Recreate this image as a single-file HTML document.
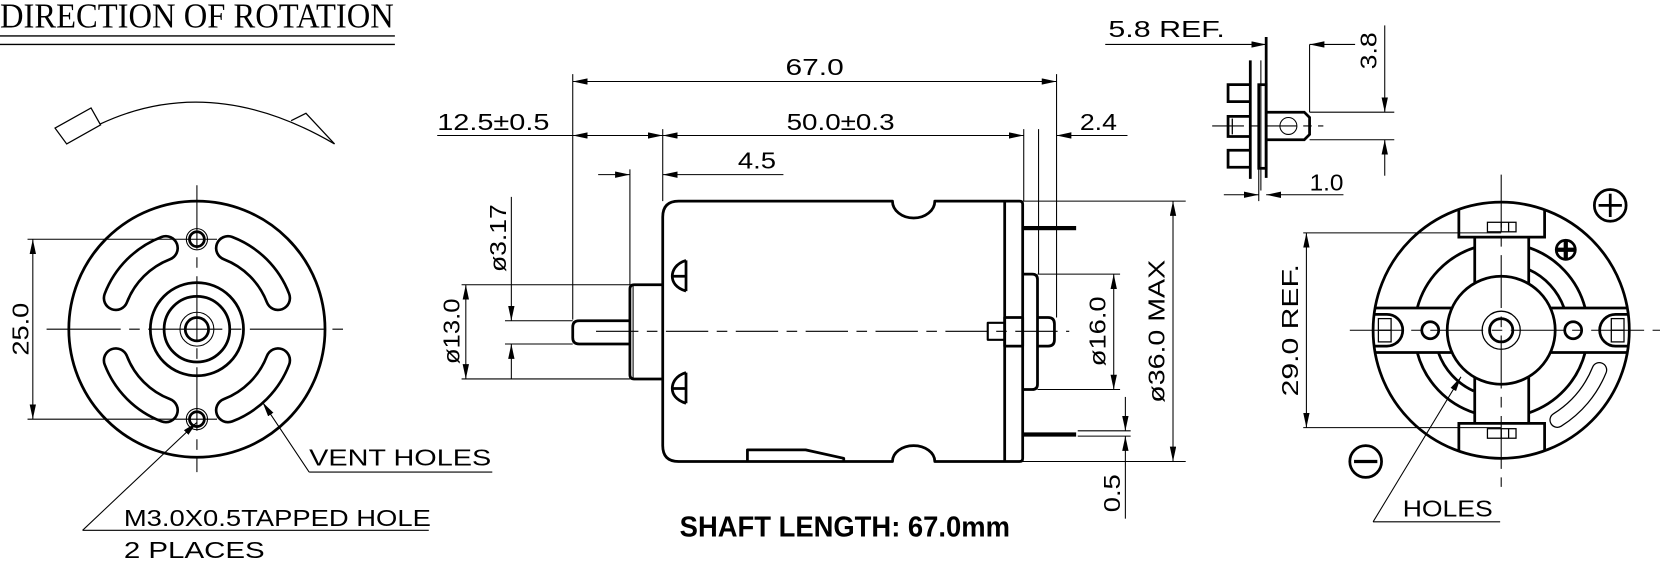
<!DOCTYPE html>
<html><head><meta charset="utf-8"><style>
html,body{margin:0;padding:0;background:#fff;}
svg{display:block;}
text{font-family:"Liberation Sans",sans-serif;fill:#000;}
</style></head><body>
<svg width="1660" height="561" viewBox="0 0 1568 530" preserveAspectRatio="none" xmlns="http://www.w3.org/2000/svg">
<defs>
<marker id="a" markerUnits="userSpaceOnUse" markerWidth="15" markerHeight="7" refX="14" refY="3" orient="auto-start-reverse"><path d="M0,0 L14,3 L0,6 z" fill="#000"/></marker>
</defs>
<g fill="none" stroke="#000" stroke-linecap="butt">

<!-- Title -->
<text x="0" y="26" font-size="33" textLength="372" lengthAdjust="spacingAndGlyphs" stroke="none" style="font-family:'Liberation Serif',serif">DIRECTION OF ROTATION</text>
<line x1="0" y1="34" x2="373" y2="34" stroke-width="1.3"/>
<line x1="0" y1="42" x2="373" y2="42" stroke-width="1.3"/>

<!-- rotation arrow -->
<path d="M95,117 Q200,68 316,136" stroke-width="1.2"/>
<polygon points="52,121 86,102 95,118 63,136" stroke-width="1.2"/>
<polyline points="275,114 289,107 316,136" stroke-width="1.2"/>

<!-- LEFT VIEW -->
<g stroke-width="2.6">
<circle cx="186" cy="311" r="121"/>
<circle cx="186" cy="311" r="44"/>
<circle cx="186" cy="311" r="31"/>
<circle cx="186" cy="311" r="11"/>
<circle cx="186" cy="226" r="7"/>
<circle cx="186" cy="396" r="7"/>
</g>
<circle cx="186" cy="311" r="16" stroke-width="1"/>
<circle cx="186" cy="226" r="10" stroke-width="1"/>
<circle cx="186" cy="396" r="10" stroke-width="1"/>
<g stroke-linecap="round">
<path d="M109.4,281.6 A82,82 0 0 1 156.6,234.4" stroke-width="25"/>
<path d="M215.4,234.4 A82,82 0 0 1 262.6,281.6" stroke-width="25"/>
<path d="M262.6,340.4 A82,82 0 0 1 215.4,387.6" stroke-width="25"/>
<path d="M156.6,387.6 A82,82 0 0 1 109.4,340.4" stroke-width="25"/>
<path d="M109.4,281.6 A82,82 0 0 1 156.6,234.4" stroke-width="20" stroke="#fff"/>
<path d="M215.4,234.4 A82,82 0 0 1 262.6,281.6" stroke-width="20" stroke="#fff"/>
<path d="M262.6,340.4 A82,82 0 0 1 215.4,387.6" stroke-width="20" stroke="#fff"/>
<path d="M156.6,387.6 A82,82 0 0 1 109.4,340.4" stroke-width="20" stroke="#fff"/>
</g>
<line x1="44" y1="311" x2="328" y2="311" stroke-width="1" stroke-dasharray="70,8,10,8"/>
<line x1="186" y1="175" x2="186" y2="446" stroke-width="1" stroke-dasharray="60,8,10,8"/>
<line x1="26" y1="226" x2="205" y2="226" stroke-width="1"/>
<line x1="26" y1="396" x2="205" y2="396" stroke-width="1"/>
<line x1="31" y1="226" x2="31" y2="396" stroke-width="1" marker-start="url(#a)" marker-end="url(#a)"/>
<text transform="translate(27,311) rotate(-90)" font-size="22" text-anchor="middle" stroke="none" textLength="50" lengthAdjust="spacingAndGlyphs">25.0</text>
<line x1="78" y1="501" x2="186" y2="399" stroke-width="1" marker-end="url(#a)"/>
<line x1="78" y1="501" x2="405" y2="501" stroke-width="1"/>
<text x="117" y="497" font-size="22" stroke="none" textLength="290" lengthAdjust="spacingAndGlyphs">M3.0X0.5TAPPED HOLE</text>
<text x="117" y="527" font-size="22" stroke="none" textLength="133" lengthAdjust="spacingAndGlyphs">2 PLACES</text>
<line x1="292" y1="446" x2="248" y2="380" stroke-width="1" marker-end="url(#a)"/>
<line x1="292" y1="446" x2="465" y2="446" stroke-width="1"/>
<text x="292" y="440" font-size="22" stroke="none" textLength="172" lengthAdjust="spacingAndGlyphs">VENT HOLES</text>

<!-- CENTER VIEW -->
<g stroke-width="1">
<line x1="541" y1="70" x2="541" y2="302"/>
<line x1="998" y1="70" x2="998" y2="300"/>
<line x1="541" y1="77" x2="998" y2="77" marker-start="url(#a)" marker-end="url(#a)"/>
<line x1="413" y1="128" x2="541" y2="128"/>
<line x1="541" y1="128" x2="626" y2="128" marker-start="url(#a)" marker-end="url(#a)"/>
<line x1="626" y1="128" x2="967" y2="128" marker-start="url(#a)" marker-end="url(#a)"/>
<line x1="998" y1="128" x2="1065" y2="128" marker-start="url(#a)"/>
<line x1="626" y1="122" x2="626" y2="190"/>
<line x1="967" y1="122" x2="967" y2="190"/>
<line x1="981" y1="122" x2="981" y2="259"/>
<line x1="565" y1="165" x2="595" y2="165" marker-end="url(#a)"/>
<line x1="626" y1="165" x2="740" y2="165" marker-start="url(#a)"/>
<line x1="595" y1="160" x2="595" y2="269"/>
<line x1="436" y1="269" x2="595" y2="269"/>
<line x1="436" y1="358" x2="595" y2="358"/>
<line x1="440" y1="269" x2="440" y2="358" marker-start="url(#a)" marker-end="url(#a)"/>
<line x1="477" y1="303" x2="541" y2="303"/>
<line x1="477" y1="325" x2="541" y2="325"/>
<line x1="483" y1="186" x2="483" y2="303" marker-end="url(#a)"/>
<line x1="483" y1="358" x2="483" y2="325" marker-end="url(#a)"/>
<line x1="966" y1="190" x2="1120" y2="190"/>
<line x1="966" y1="436" x2="1120" y2="436"/>
<line x1="1108" y1="190" x2="1108" y2="436" marker-start="url(#a)" marker-end="url(#a)"/>
<line x1="980" y1="259" x2="1058" y2="259"/>
<line x1="980" y1="368" x2="1058" y2="368"/>
<line x1="1052" y1="259" x2="1052" y2="368" marker-start="url(#a)" marker-end="url(#a)"/>
<line x1="1018" y1="407" x2="1068" y2="407"/>
<line x1="1018" y1="412" x2="1068" y2="412"/>
<line x1="1063" y1="375" x2="1063" y2="407" marker-end="url(#a)"/>
<line x1="1063" y1="490" x2="1063" y2="412" marker-end="url(#a)"/>
<line x1="563" y1="313" x2="1010" y2="313" stroke-dasharray="40,8,10,8"/>
</g>
<g stroke="none" font-size="22">
<text x="742" y="71" textLength="55" lengthAdjust="spacingAndGlyphs">67.0</text>
<text x="413" y="123" textLength="106" lengthAdjust="spacingAndGlyphs">12.5±0.5</text>
<text x="743" y="123" textLength="102" lengthAdjust="spacingAndGlyphs">50.0±0.3</text>
<text x="1020" y="123" textLength="35" lengthAdjust="spacingAndGlyphs">2.4</text>
<text x="697" y="159" textLength="36" lengthAdjust="spacingAndGlyphs">4.5</text>
<text transform="translate(434,313) rotate(-90)" text-anchor="middle" textLength="62" lengthAdjust="spacingAndGlyphs">ø13.0</text>
<text transform="translate(478,225) rotate(-90)" text-anchor="middle" textLength="64" lengthAdjust="spacingAndGlyphs">ø3.17</text>
<text transform="translate(1100,313) rotate(-90)" text-anchor="middle" textLength="135" lengthAdjust="spacingAndGlyphs">ø36.0 MAX</text>
<text transform="translate(1044,313) rotate(-90)" text-anchor="middle" textLength="66" lengthAdjust="spacingAndGlyphs">ø16.0</text>
<text transform="translate(1058,466) rotate(-90)" text-anchor="middle" textLength="36" lengthAdjust="spacingAndGlyphs">0.5</text>
<text x="642" y="507" font-size="27" font-weight="bold" textLength="312" lengthAdjust="spacingAndGlyphs">SHAFT LENGTH: 67.0mm</text>
</g>
<g stroke-width="2.6" stroke-linejoin="round">
<path d="M641,190 L843,190 A20,16 0 0 0 883,190 L963,190 Q966,190 966,193 L966,433 Q966,436 963,436 L883,436 A20,15 0 0 0 843,436 L641,436 Q626,436 626,421 L626,205 Q626,190 641,190 Z"/>
<line x1="949" y1="190" x2="949" y2="436"/>
<polyline points="706,436 706,425 761,425 797,433 797,436"/>
<path d="M648,246 L648,275 M648,246 C638,249 635,256 635,261 L648,261 M648,275 C638,272 635,266 635,261"/>
<path d="M648,352 L648,381 M648,352 C638,355 635,362 635,367 L648,367 M648,381 C638,378 635,372 635,367"/>
<path d="M626,269 L599,269 Q595,269 595,273 L595,354 Q595,358 599,358 L626,358"/>
<path d="M595,303 L547,303 Q541,303 541,309 L541,319 Q541,325 547,325 L595,325"/>
<rect x="933" y="305" width="16" height="16" stroke-width="2"/>
<rect x="949" y="300" width="17" height="27"/>
<path d="M966,259 L975,259 Q980,259 980,264 L980,363 Q980,368 975,368 L966,368"/>
<path d="M980,300 L990,300 Q996,300 996,306 L996,321 Q996,327 990,327 L980,327"/>
</g>
<rect x="966" y="214" width="50" height="3" fill="#000" stroke-width="1"/>
<rect x="966" y="409" width="50" height="3" fill="#000" stroke-width="1"/>
<line x1="598" y1="270" x2="598" y2="357" stroke-width="1"/>

<!-- SIDE VIEW top right -->
<g stroke-width="2.6">
<line x1="1196" y1="35" x2="1196" y2="168"/>
<line x1="1181" y1="57" x2="1181" y2="169"/>
<rect x="1189" y="80" width="7" height="79"/>
<polyline points="1181,80 1160,80 1160,96 1181,96"/>
<polyline points="1181,110 1160,110 1160,129 1181,129"/>
<polyline points="1181,142 1160,142 1160,158 1181,158"/>
<path d="M1196,106 L1232,106 L1237,111 L1237,127 L1232,132 L1196,132"/>
</g>
<line x1="1164" y1="112" x2="1164" y2="127" stroke-width="1.2"/>
<line x1="1191" y1="57" x2="1191" y2="180" stroke-width="1"/>
<circle cx="1217" cy="119" r="8" stroke-width="1"/>
<line x1="1145" y1="119" x2="1250" y2="119" stroke-width="1" stroke-dasharray="30,6,8,6"/>
<g stroke-width="1">
<line x1="1044" y1="42" x2="1196" y2="42" marker-end="url(#a)"/>
<line x1="1280" y1="42" x2="1237" y2="42" marker-end="url(#a)"/>
<line x1="1237" y1="42" x2="1237" y2="106"/>
<line x1="1237" y1="106" x2="1317" y2="106"/>
<line x1="1237" y1="132" x2="1317" y2="132"/>
<line x1="1308" y1="24" x2="1308" y2="106" marker-end="url(#a)"/>
<line x1="1308" y1="166" x2="1308" y2="132" marker-end="url(#a)"/>
<line x1="1156" y1="184" x2="1189" y2="184" marker-end="url(#a)"/>
<line x1="1269" y1="184" x2="1196" y2="184" marker-end="url(#a)"/>
<line x1="1189" y1="160" x2="1189" y2="190"/>
</g>
<g stroke="none" font-size="22">
<text x="1047" y="35" textLength="110" lengthAdjust="spacingAndGlyphs">5.8 REF.</text>
<text transform="translate(1300,48) rotate(-90)" text-anchor="middle" textLength="35" lengthAdjust="spacingAndGlyphs">3.8</text>
<text x="1237" y="180" textLength="32" lengthAdjust="spacingAndGlyphs">1.0</text>
</g>

<!-- RIGHT END VIEW -->
<g stroke-width="2.6">
<circle cx="1418" cy="312" r="121"/>
<circle cx="1418" cy="312" r="51"/>
<circle cx="1418" cy="312" r="11"/>
<circle cx="1351" cy="312" r="8"/>
<circle cx="1486" cy="312" r="8"/>
<polyline points="1378,198 1378,224 1459,224 1459,198"/>
<polyline points="1378,426 1378,400 1459,400 1459,426"/>
<line x1="1393" y1="224" x2="1393" y2="268"/>
<line x1="1444" y1="224" x2="1444" y2="268"/>
<line x1="1393" y1="356" x2="1393" y2="400"/>
<line x1="1444" y1="356" x2="1444" y2="400"/>
<line x1="1298" y1="291" x2="1371" y2="291"/>
<line x1="1298" y1="333" x2="1371" y2="333"/>
<line x1="1465" y1="291" x2="1538" y2="291"/>
<line x1="1465" y1="333" x2="1538" y2="333"/>
<path d="M1338.7,291 A82,82 0 0 1 1393,233.9"/>
<path d="M1444,233.9 A82,82 0 0 1 1497.3,291"/>
<path d="M1497.3,333 A82,82 0 0 1 1444,390.1"/>
<path d="M1393,390.1 A82,82 0 0 1 1338.7,333"/>
<path d="M1444,254.6 A63,63 0 0 1 1477.4,291"/>
<path d="M1392,369.4 A63,63 0 0 1 1358.6,333"/>
<path d="M1298,297 L1310,297 A15,15 0 0 1 1310,327 L1298,327"/>
<path d="M1538,297 L1526,297 A15,15 0 0 0 1526,327 L1538,327"/>
</g>
<g stroke-width="1.2">
<circle cx="1418" cy="312" r="18"/>
<rect x="1302" y="301" width="12" height="22"/>
<line x1="1302" y1="312" x2="1314" y2="312"/>
<rect x="1522" y="301" width="12" height="22"/>
<line x1="1522" y1="312" x2="1534" y2="312"/>
<rect x="1405" y="210" width="27" height="9"/>
<line x1="1418" y1="210" x2="1418" y2="219"/><line x1="1425" y1="210" x2="1425" y2="219"/>
<rect x="1405" y="405" width="27" height="9"/>
<line x1="1418" y1="405" x2="1418" y2="414"/><line x1="1425" y1="405" x2="1425" y2="414"/>
</g>
<path d="M1510.7,349.5 A100,100 0 0 1 1471,396.8" stroke-width="15" stroke-linecap="round"/>
<path d="M1510.7,349.5 A100,100 0 0 1 1471,396.8" stroke-width="12.6" stroke-linecap="round" stroke="#fff"/>
<line x1="1275" y1="312" x2="1568" y2="312" stroke-width="1" stroke-dasharray="50,8,10,8"/>
<line x1="1418" y1="165" x2="1418" y2="460" stroke-width="1" stroke-dasharray="50,8,10,8"/>
<g stroke-width="2.6">
<circle cx="1521" cy="194" r="15"/>
<line x1="1510" y1="194" x2="1532" y2="194"/><line x1="1521" y1="183" x2="1521" y2="205"/>
<circle cx="1479" cy="236" r="9"/>
<line x1="1471" y1="236" x2="1487" y2="236" stroke-width="4"/><line x1="1479" y1="228" x2="1479" y2="244" stroke-width="4"/>
<circle cx="1290" cy="436" r="15"/>
<line x1="1279" y1="436" x2="1301" y2="436" stroke-width="3"/>
</g>
<g stroke-width="1">
<line x1="1231" y1="220" x2="1418" y2="220"/>
<line x1="1231" y1="404" x2="1418" y2="404"/>
<line x1="1234" y1="220" x2="1234" y2="404" marker-start="url(#a)" marker-end="url(#a)"/>
<line x1="1297" y1="493" x2="1380" y2="356" marker-end="url(#a)"/>
<line x1="1297" y1="493" x2="1417" y2="493"/>
</g>
<g stroke="none" font-size="22">
<text transform="translate(1226,312) rotate(-90)" text-anchor="middle" textLength="125" lengthAdjust="spacingAndGlyphs">29.0 REF.</text>
<text x="1325" y="488" textLength="85" lengthAdjust="spacingAndGlyphs">HOLES</text>
</g>
</g>
</svg>
</body></html>
